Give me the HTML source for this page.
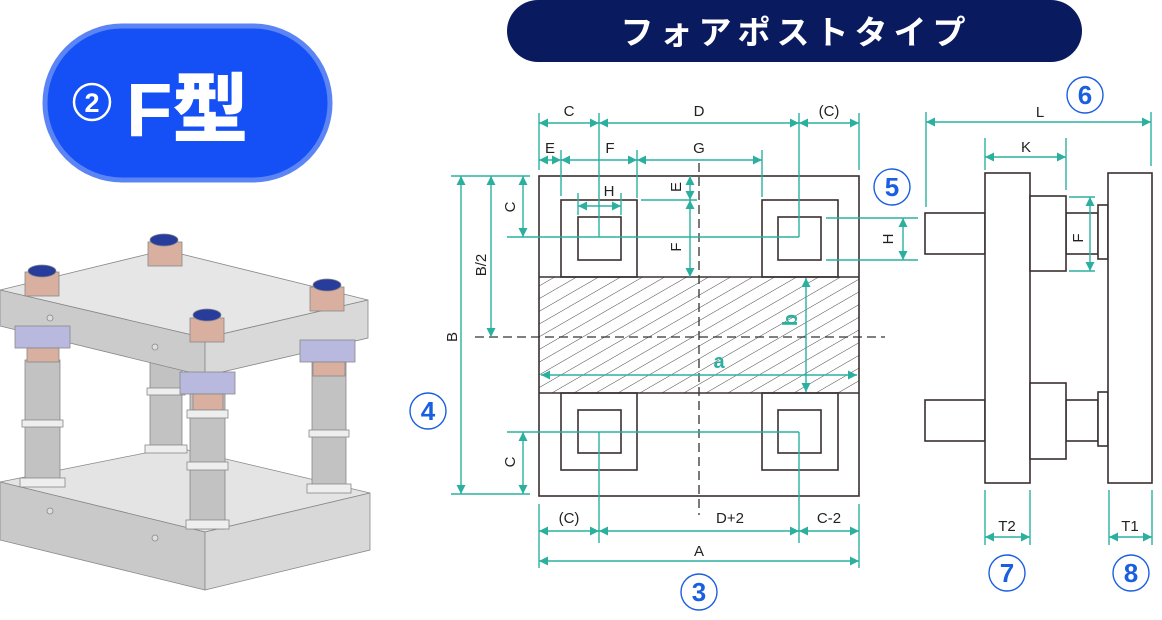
<!DOCTYPE html>
<html><head><meta charset="utf-8"><style>
html,body{margin:0;padding:0;background:#fff;width:1162px;height:620px;overflow:hidden}
svg{display:block}
.t{font-family:"Liberation Sans","Noto Sans CJK JP",sans-serif;font-size:15px;fill:#222}
.c{font-family:"Liberation Sans",sans-serif;font-weight:bold;font-size:26px;fill:#1a5fe0}
</style></head><body>
<svg width="1162" height="620" viewBox="0 0 1162 620" xmlns="http://www.w3.org/2000/svg">
<defs>
<marker id="ar" viewBox="0 0 10 10" refX="10" refY="5" markerWidth="9" markerHeight="9" orient="auto-start-reverse" markerUnits="userSpaceOnUse"><path d="M0,0 L10,5 L0,10 z" fill="#2bb0a0"/></marker>
<pattern id="hatch" patternUnits="userSpaceOnUse" width="11" height="11" patternTransform="rotate(-30)"><line x1="0" y1="0" x2="11" y2="0" stroke="#333" stroke-width="0.9"/></pattern>
</defs>

<rect x="507" y="0" width="575" height="62" rx="31" fill="#0a1a5e"/>
<text x="796" y="44" text-anchor="middle" style="font-family:'Noto Sans CJK JP',sans-serif;font-weight:bold;font-size:33px;letter-spacing:6px" fill="#fff">フォアポストタイプ</text>

<rect x="45" y="26" width="285" height="154" rx="77" fill="#1450f5" stroke="#5b84f5" stroke-width="5"/>
<circle cx="92" cy="102" r="18" fill="none" stroke="#fff" stroke-width="2.5"/>
<text x="92" y="112" text-anchor="middle" style="font-family:'Liberation Sans',sans-serif;font-weight:bold;font-size:27px" fill="#fff">2</text>
<text x="126" y="136" style="font-family:'Liberation Sans','Noto Sans CJK JP',sans-serif;font-weight:900;font-size:76px" fill="#fff">F型</text>

<g stroke="#888" stroke-width="0.8">
 <polygon points="0,482 175,447 370,493 205,532" fill="#e4e4e4"/>
 <polygon points="0,482 205,532 205,590 0,540" fill="#c9c9c9"/>
 <polygon points="205,532 370,493 370,550 205,590" fill="#d8d8d8"/>
 <g fill="#c2c2c2">
  <rect x="150" y="355" width="32" height="95"/>
  <rect x="25" y="360" width="35" height="125"/>
  <rect x="312" y="360" width="34" height="130"/>
 </g>
 <g fill="#eee">
  <rect x="145" y="445" width="42" height="8"/>
  <rect x="20" y="478" width="45" height="9"/>
  <rect x="307" y="484" width="44" height="9"/>
  <rect x="22" y="420" width="41" height="7"/>
  <rect x="309" y="430" width="40" height="7"/>
  <rect x="147" y="388" width="38" height="7"/>
 </g>
 <polygon points="0,290 165,250 368,300 205,338" fill="#e6e6e6"/>
 <polygon points="0,290 205,338 205,376 0,326" fill="#cbcbcb"/>
 <polygon points="205,338 368,300 368,338 205,376" fill="#d9d9d9"/>
 <rect x="15" y="326" width="55" height="22" fill="#b9b9e0"/>
 <rect x="300" y="340" width="55" height="22" fill="#b9b9e0"/>
 <rect x="180" y="372" width="55" height="22" fill="#b9b9e0"/>
 <rect x="27" y="348" width="32" height="14" fill="#d9b0a0"/>
 <rect x="313" y="362" width="32" height="14" fill="#d9b0a0"/>
 <rect x="190" y="394" width="35" height="135" fill="#c2c2c2"/>
 <rect x="193" y="394" width="30" height="16" fill="#d9b0a0"/>
 <rect x="187" y="410" width="41" height="8" fill="#eee"/>
 <rect x="187" y="462" width="41" height="8" fill="#eee"/>
 <rect x="186" y="520" width="43" height="9" fill="#eee"/>
 <g>
  <rect x="25" y="272" width="34" height="24" fill="#d9b0a0"/>
  <ellipse cx="42" cy="271" rx="14" ry="6" fill="#283c9c"/>
  <rect x="148" y="242" width="34" height="24" fill="#d9b0a0"/>
  <ellipse cx="164" cy="240" rx="14" ry="6" fill="#283c9c"/>
  <rect x="310" y="287" width="34" height="24" fill="#d9b0a0"/>
  <ellipse cx="327" cy="285" rx="14" ry="6" fill="#283c9c"/>
  <rect x="190" y="318" width="34" height="24" fill="#d9b0a0"/>
  <ellipse cx="207" cy="315" rx="14" ry="6" fill="#283c9c"/>
 </g>
 <circle cx="50" cy="318" r="3" fill="#ddd"/>
 <circle cx="155" cy="347" r="3" fill="#ddd"/>
 <circle cx="50" cy="511" r="3" fill="#ddd"/>
 <circle cx="155" cy="538" r="3" fill="#ddd"/>
</g>

<g fill="none" stroke="#3a3030" stroke-width="1.6">
 <rect x="539" y="277" width="320" height="116" fill="url(#hatch)" stroke="none"/>
 <rect x="539" y="176" width="320" height="320"/>
 <line x1="539" y1="277" x2="859" y2="277"/>
 <line x1="539" y1="393" x2="859" y2="393"/>
 <rect x="561" y="200" width="76" height="77"/>
 <rect x="578" y="217" width="43" height="43"/>
 <rect x="762" y="200" width="76" height="77"/>
 <rect x="778" y="217" width="43" height="43"/>
 <rect x="561" y="393" width="76" height="77"/>
 <rect x="578" y="410" width="43" height="43"/>
 <rect x="762" y="393" width="76" height="77"/>
 <rect x="778" y="410" width="43" height="43"/>
</g>
<g stroke="#333" stroke-width="1.3" stroke-dasharray="9,5">
 <line x1="699" y1="163" x2="699" y2="515"/>
 <line x1="475" y1="337" x2="885" y2="337"/>
</g>

<g fill="#fff" stroke="#3a3030" stroke-width="1.6">
 <rect x="925" y="213" width="60" height="41"/>
 <rect x="925" y="400" width="60" height="41"/>
 <rect x="1066" y="213" width="32" height="41"/>
 <rect x="1066" y="400" width="32" height="41"/>
 <rect x="985" y="173" width="45" height="310"/>
 <rect x="1030" y="196" width="36" height="75"/>
 <rect x="1030" y="383" width="36" height="76"/>
 <rect x="1098" y="205" width="10" height="54"/>
 <rect x="1098" y="392" width="10" height="54"/>
 <rect x="1108" y="173" width="44" height="310"/>
</g>

<g stroke="#2bb0a0" stroke-width="1.4" fill="none">
 <line x1="539" y1="113" x2="539" y2="170"/>
 <line x1="599" y1="113" x2="599" y2="237"/>
 <line x1="799" y1="113" x2="799" y2="237"/>
 <line x1="859" y1="113" x2="859" y2="170"/>
 <line x1="561" y1="150" x2="561" y2="196"/>
 <line x1="637" y1="150" x2="637" y2="198"/>
 <line x1="762" y1="150" x2="762" y2="197"/>
 <line x1="578" y1="193" x2="578" y2="215"/>
 <line x1="621" y1="193" x2="621" y2="215"/>
 <line x1="507" y1="237" x2="799" y2="237"/>
 <line x1="507" y1="432" x2="799" y2="432"/>
 <line x1="599" y1="432" x2="599" y2="543"/>
 <line x1="799" y1="432" x2="799" y2="543"/>
 <line x1="539" y1="504" x2="539" y2="568"/>
 <line x1="859" y1="504" x2="859" y2="568"/>
 <line x1="451" y1="176" x2="530" y2="176"/>
 <line x1="451" y1="494" x2="530" y2="494"/>
 <line x1="641" y1="200" x2="697" y2="200"/>
 <line x1="826" y1="218" x2="918" y2="218"/>
 <line x1="826" y1="260" x2="918" y2="260"/>
 <line x1="926" y1="112" x2="926" y2="207"/>
 <line x1="1151" y1="112" x2="1151" y2="166"/>
 <line x1="985" y1="138" x2="985" y2="170"/>
 <line x1="1066" y1="138" x2="1066" y2="190"/>
 <line x1="1069" y1="197" x2="1095" y2="197"/>
 <line x1="1069" y1="271" x2="1095" y2="271"/>
 <line x1="985" y1="490" x2="985" y2="545"/>
 <line x1="1030" y1="490" x2="1030" y2="545"/>
 <line x1="1109" y1="490" x2="1109" y2="545"/>
 <line x1="1152" y1="490" x2="1152" y2="545"/>
</g>
<g stroke="#2bb0a0" stroke-width="1.4" fill="none" marker-start="url(#ar)" marker-end="url(#ar)">
 <line x1="539" y1="123" x2="599" y2="123"/>
 <line x1="599" y1="123" x2="799" y2="123"/>
 <line x1="799" y1="123" x2="859" y2="123"/>
 <line x1="539" y1="160" x2="561" y2="160"/>
 <line x1="561" y1="160" x2="637" y2="160"/>
 <line x1="637" y1="160" x2="762" y2="160"/>
 <line x1="578" y1="206" x2="621" y2="206"/>
 <line x1="461" y1="176" x2="461" y2="494"/>
 <line x1="491" y1="176" x2="491" y2="337"/>
 <line x1="523" y1="176" x2="523" y2="237"/>
 <line x1="523" y1="432" x2="523" y2="494"/>
 <line x1="690" y1="176" x2="690" y2="200"/>
 <line x1="690" y1="200" x2="690" y2="277"/>
 <line x1="806" y1="278" x2="806" y2="392"/>
 <line x1="541" y1="375" x2="857" y2="375"/>
 <line x1="539" y1="531" x2="599" y2="531"/>
 <line x1="599" y1="531" x2="799" y2="531"/>
 <line x1="799" y1="531" x2="859" y2="531"/>
 <line x1="539" y1="561" x2="859" y2="561"/>
 <line x1="903" y1="218" x2="903" y2="260"/>
 <line x1="926" y1="122" x2="1151" y2="122"/>
 <line x1="985" y1="157" x2="1066" y2="157"/>
 <line x1="1090" y1="197" x2="1090" y2="271"/>
 <line x1="985" y1="537" x2="1030" y2="537"/>
 <line x1="1109" y1="537" x2="1152" y2="537"/>
</g>

<g class="t" text-anchor="middle">
 <text x="569" y="116">C</text>
 <text x="699" y="116">D</text>
 <text x="829" y="116">(C)</text>
 <text x="550" y="153">E</text>
 <text x="610" y="153">F</text>
 <text x="699" y="153">G</text>
 <text x="609" y="196">H</text>
 <text x="569" y="523">(C)</text>
 <text x="730" y="523">D+2</text>
 <text x="829" y="523">C-2</text>
 <text x="699" y="556">A</text>
 <text x="1040" y="117">L</text>
 <text x="1026" y="152">K</text>
 <text x="1007" y="531">T2</text>
 <text x="1130" y="531">T1</text>
 <text transform="translate(457,337) rotate(-90)">B</text>
 <text transform="translate(486,265) rotate(-90)">B/2</text>
 <text transform="translate(515,207) rotate(-90)">C</text>
 <text transform="translate(515,462) rotate(-90)">C</text>
 <text transform="translate(681,187) rotate(-90)">E</text>
 <text transform="translate(681,247) rotate(-90)">F</text>
 <text transform="translate(893,239) rotate(-90)">H</text>
 <text transform="translate(1083,238) rotate(-90)">F</text>
</g>
<text x="719" y="368" text-anchor="middle" style="font-family:'Liberation Sans',sans-serif;font-weight:bold;font-size:20px" fill="#2bb0a0">a</text>
<text transform="translate(797,320) rotate(-90)" text-anchor="middle" style="font-family:'Liberation Sans',sans-serif;font-weight:bold;font-size:20px" fill="#2bb0a0">b</text>

<g fill="none" stroke="#1a5fe0" stroke-width="1.4">
 <circle cx="699" cy="592" r="18"/>
 <circle cx="428" cy="411" r="18"/>
 <circle cx="892" cy="187" r="18"/>
 <circle cx="1085" cy="95" r="18"/>
 <circle cx="1007" cy="573" r="18"/>
 <circle cx="1131" cy="573" r="18"/>
</g>
<g class="c" text-anchor="middle">
 <text x="699" y="601">3</text>
 <text x="428" y="420">4</text>
 <text x="892" y="196">5</text>
 <text x="1085" y="104">6</text>
 <text x="1007" y="582">7</text>
 <text x="1131" y="582">8</text>
</g>
</svg>
</body></html>
